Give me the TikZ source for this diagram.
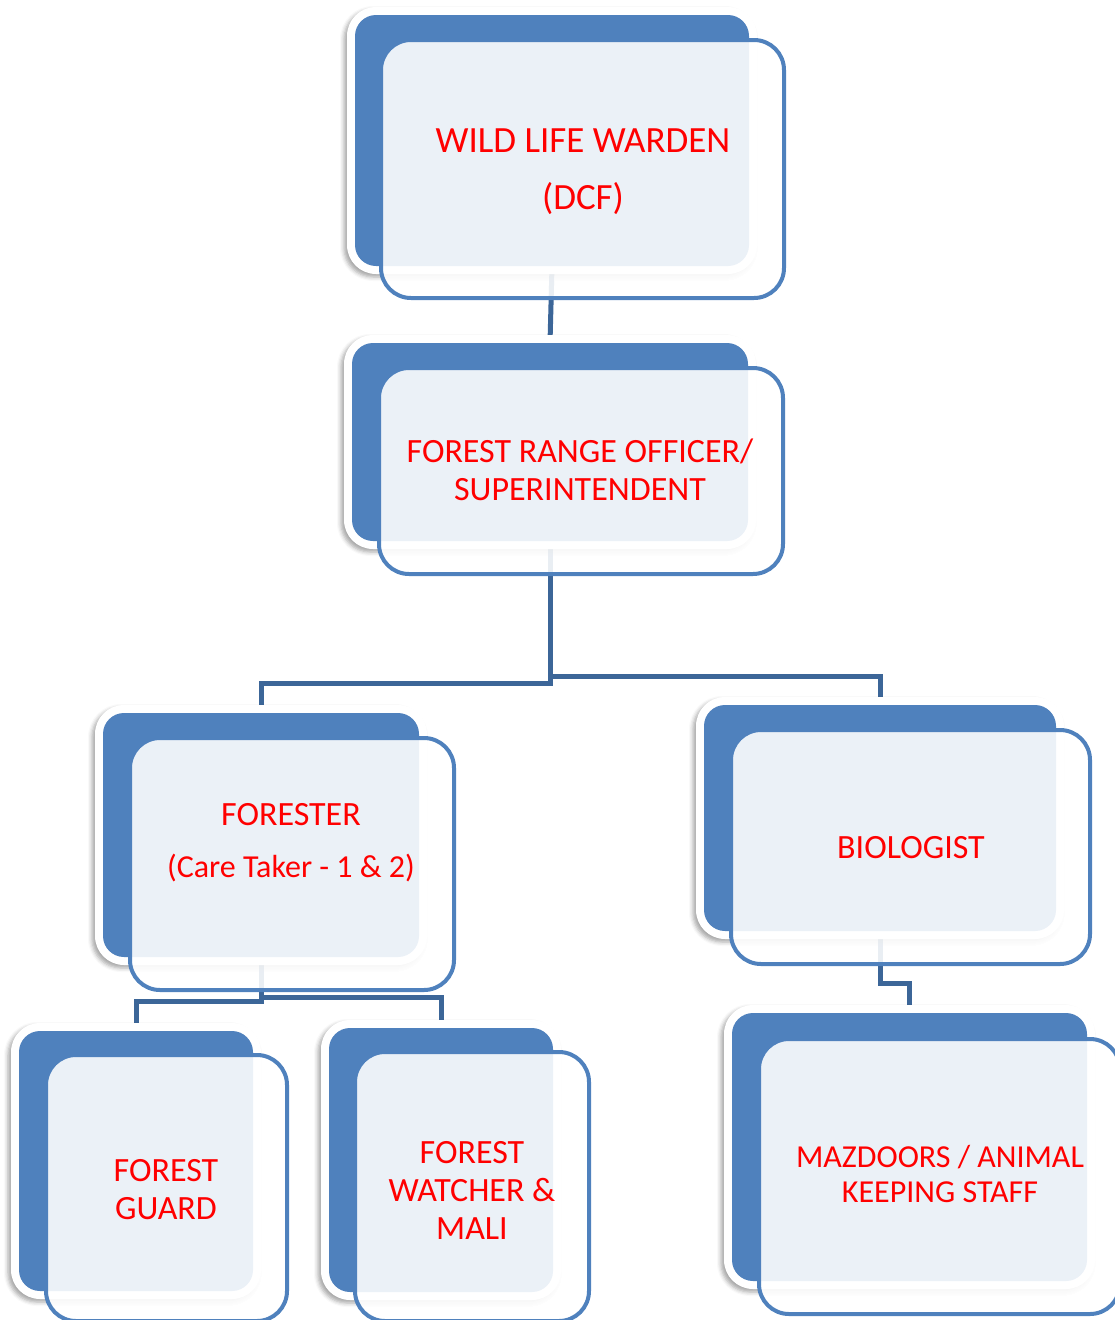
\documentclass[tikz,border=0pt]{standalone}
\usepackage{fontspec}
\setmainfont{Carlito}
\usetikzlibrary{fit,shadows.blur}
\pgfdeclarelayer{bg}
\pgfsetlayers{bg,main}
\definecolor{boxblue}{HTML}{4F81BD}
\definecolor{linkblue}{HTML}{3C6698}
\definecolor{txtred}{HTML}{FF0000}
\tikzset{
  ring/.style={fill=white, inner sep=8pt, rounded corners=29pt,
    blur shadow={shadow xshift=-3pt, shadow yshift=-3pt, shadow blur radius=4pt, shadow opacity=35}},
  backbox/.style={fill=boxblue, inner sep=0pt, rounded corners=21pt},
  frontbox/.style={fill=white, fill opacity=0.89, draw=boxblue, line width=4pt, inner sep=0pt, rounded corners=30pt},
  lbl/.style={text=txtred, align=center, inner sep=0pt, font=\fontsize{34}{38}\selectfont},
  link/.style={draw=linkblue, line width=5pt}
}
\begin{document}
\begin{tikzpicture}[x=1pt,y=-1pt]
\useasboundingbox (0,0) rectangle (1115,1320);
% Box 1
\node[ring, fit={(355,15) (749,266)}] (w1) {};
\node[backbox, fit={(355,15) (749,266)}] (b1) {};
\node[frontbox, fit={(381,40) (784,298)}] (f1) {};
\node[lbl, font=\fontsize{37}{41}\selectfont] (t1) at (583,172) {WILD LIFE WARDEN\\[16pt](DCF)};
% Box 2
\node[ring, fit={(352,343) (748,541)}] (w2) {};
\node[backbox, fit={(352,343) (748,541)}] (b2) {};
\node[frontbox, fit={(379,368) (783,574)}] (f2) {};
\node[lbl] (t2) at (580,470) {FOREST RANGE OFFICER/\\SUPERINTENDENT};
% Box 3
\node[ring, fit={(103,713) (419,957)}] (w3) {};
\node[backbox, fit={(103,713) (419,957)}] (b3) {};
\node[frontbox, fit={(130,738) (454,990)}] (f3) {};
\node[lbl] (t3) at (291,843) {FORESTER\\[14pt]{\fontsize{32}{36}\selectfont (Care Taker - 1 \& 2)}};
% Box 4
\node[ring, fit={(704,705) (1056,931)}] (w4) {};
\node[backbox, fit={(704,705) (1056,931)}] (b4) {};
\node[frontbox, fit={(731,730) (1090,964)}] (f4) {};
\node[lbl] (t4) at (911,848) {BIOLOGIST};
% Box 5
\node[ring, fit={(732,1013) (1087,1281)}] (w5) {};
\node[backbox, fit={(732,1013) (1087,1281)}] (b5) {};
\node[frontbox, fit={(759,1039) (1120,1314)}] (f5) {};
\node[lbl, font=\fontsize{32}{35}\selectfont] (t5) at (940,1174) {MAZDOORS / ANIMAL\\KEEPING STAFF};
% Box 6
\node[ring, fit={(19,1031) (253,1291)}] (w6) {};
\node[backbox, fit={(19,1031) (253,1291)}] (b6) {};
\node[frontbox, fit={(46,1055) (287,1321)}] (f6) {};
\node[lbl] (t6) at (166,1190) {FOREST\\GUARD};
% Box 7
\node[ring, fit={(329,1028) (553,1292)}] (w7) {};
\node[backbox, fit={(329,1028) (553,1292)}] (b7) {};
\node[frontbox, fit={(355,1052) (589,1321)}] (f7) {};
\node[lbl] (t7) at (472,1190) {FOREST\\WATCHER \&\\MALI};
% connectors
\begin{pgfonlayer}{bg}
\draw[link] (b1.south) -- (b2.north);
\draw[link] (b2.south) -- ++(0,142) -| (b3.north);
\draw[link] (b2.south) -- ++(0,135) -| (b4.north);
\draw[link] (b3.south) -- ++(0,44) -| (b6.north);
\draw[link] (b3.south) -- ++(0,40) -| (b7.north);
\draw[link] (b4.south) -- ++(0,52) -| (b5.north);
\end{pgfonlayer}
\end{tikzpicture}
\end{document}
